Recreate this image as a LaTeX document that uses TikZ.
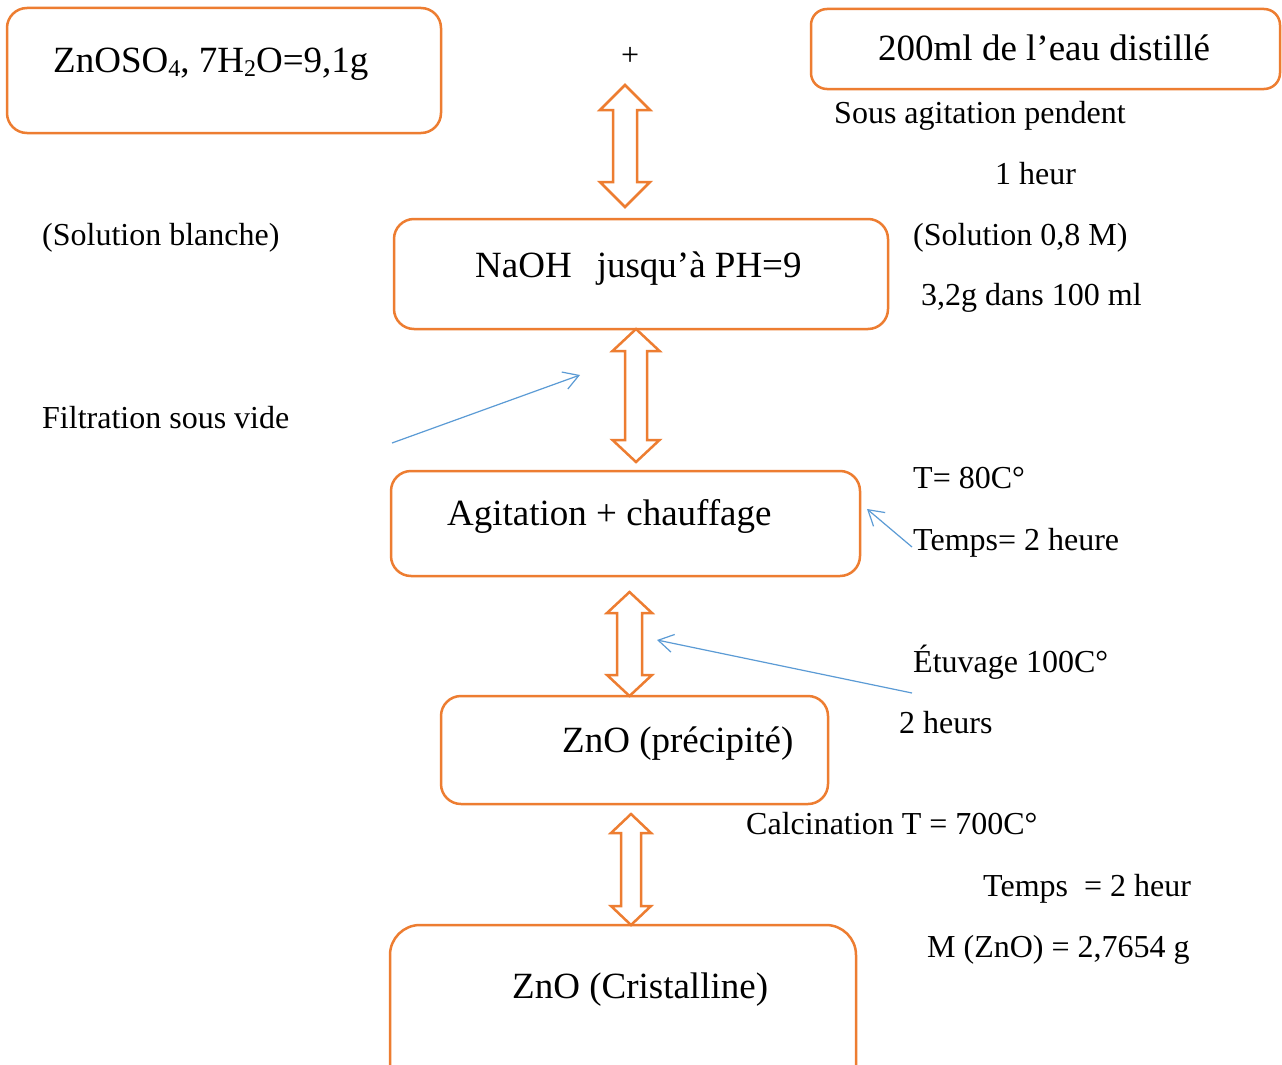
\documentclass[tikz,border=0pt]{standalone}
\usepackage{fontspec}
\setmainfont{Liberation Serif}
\usetikzlibrary{arrows.meta}
\definecolor{boxorange}{HTML}{ED7D31}
\definecolor{linkblue}{HTML}{5B9BD5}
% block double arrow: #1 x, #2 top tip y, #3 bottom tip y, #4 half shaft, #5 half head, #6 head length
\newcommand\blockarr[6]{%
  \draw[blockarrow] (#1,#2) -- ++(#5,#6) -- ++(-#5+#4,0) |- (#1+#4,#3-#6) -- (#1+#5,#3-#6)
    -- (#1,#3) -- (#1-#5,#3-#6) -- (#1-#4,#3-#6) -- (#1-#4,#2+#6) -- (#1-#5,#2+#6) -- cycle;}
\newcommand\chemsub[1]{\raisebox{-3.5pt}{\fontsize{24}{24}\selectfont #1}}
\begin{document}
\begin{tikzpicture}[x=1pt,y=-1pt,
  box/.style={draw=boxorange, line width=2.5pt, rounded corners=20pt, rectangle, inner sep=0pt},
  big/.style={font=\fontsize{37}{44}\selectfont, inner sep=0pt, anchor=base west},
  small/.style={font=\fontsize{32}{38}\selectfont, inner sep=0pt, anchor=base west},
  pointer/.style={draw=linkblue, line width=1.2pt, -{Straight Barb[length=15pt,width=18pt]}},
  blockarrow/.style={draw=boxorange, line width=2.5pt, fill=white, line join=miter}]
\useasboundingbox (0,0) rectangle (1282,1065);
\fill[white] (0,0) rectangle (1282,1065);
\clip (0,0) rectangle (1282,1065);

% boxes
\node[box, minimum width=434pt, minimum height=125pt] (b1) at (224,70.5) {};
\node[box, rounded corners=16pt, minimum width=469pt, minimum height=80pt] (b2) at (1045.5,49) {};
\node[box, minimum width=494pt, minimum height=110pt] (b3) at (641,274) {};
\node[box, minimum width=469pt, minimum height=105pt] (b4) at (625.5,523.5) {};
\node[box, minimum width=387pt, minimum height=108pt] (b5) at (634.5,750) {};
\node[box, rounded corners=30pt, minimum width=466pt, minimum height=180pt] (b6) at (623,1015) {};

% block arrows
\blockarr{625}{85}{207}{12}{25}{25}
\blockarr{636}{329}{462}{11}{23.5}{22}
\blockarr{629.5}{592}{696}{12.5}{22.5}{21}
\blockarr{631}{814}{925}{10}{20}{19}

% texts
\node[small] (plus) at (621,66) {+};
\node[big] (t1) at (53,73) {ZnOSO\chemsub{4}, 7H\chemsub{2}O=9,1g};
\node[big] (t2) at (878,60) {200ml de l’eau distillé};
\node[small] (t3) at (834,123) {Sous agitation pendent};
\node[small] (t4) at (995,184) {1 heur};
\node[small] (t5) at (913,245) {(Solution 0,8 M)};
\node[small] (t6) at (921,305) {3,2g dans 100 ml};
\node[small] (t7) at (42,245) {(Solution blanche)};
\node[big] (t8) at (475,277) {NaOH\hspace{25pt}jusqu’à PH=9};
\node[small] (t9) at (42,428) {Filtration sous vide};
\node[big] (t10) at (447,525) {Agitation + chauffage};
\node[small] (t11) at (913,488) {T= 80C°};
\node[small] (t12) at (913,550) {Temps= 2 heure};
\node[small] (t13) at (913,672) {Étuvage 100C°};
\node[small] (t14) at (899,733) {2 heurs};
\node[big] (t15) at (562,752) {ZnO (précipité)};
\node[small] (t16) at (746,834) {Calcination T = 700C°};
\node[small] (t17) at (983,896) {Temps\ \ = 2 heur};
\node[small] (t18) at (927,957) {M (ZnO) = 2,7654 g};
\node[big] (t19) at (512,998) {ZnO (Cristalline)};

% blue pointers
\coordinate (p1s) at (392,443);
\coordinate (p1e) at (580,375);
\coordinate (p2s) at (912,547);
\coordinate (p2e) at (867,509);
\coordinate (p3s) at (912,693);
\coordinate (p3e) at (657,640);
\draw[pointer] (p1s) -- (p1e);
\draw[pointer] (p2s) -- (p2e);
\draw[pointer] (p3s) -- (p3e);
\end{tikzpicture}
\end{document}
